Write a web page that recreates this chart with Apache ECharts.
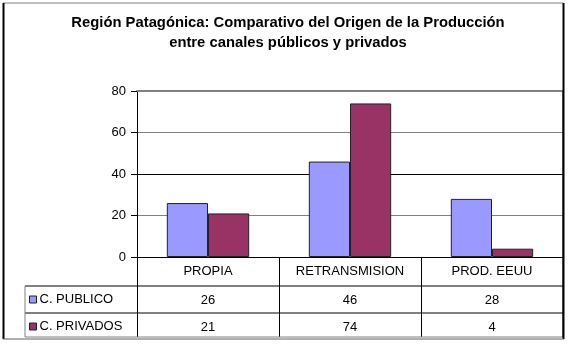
<!DOCTYPE html>
<html><head><meta charset="utf-8">
<script src="https://cdn.jsdelivr.net/npm/echarts@6/dist/echarts.min.js"></script>
<style>html,body{margin:0;padding:0;background:#fff}#c{width:568px;height:344px}</style>
</head><body><div id="c"></div>
<script>
const titleLines = ['Región Patagónica: Comparativo del Origen de la Producción', 'entre canales públicos y privados'];
const categories = ['PROPIA', 'RETRANSMISION', 'PROD. EEUU'];
const seriesNames = ['C. PUBLICO', 'C. PRIVADOS'];
const publico = [26, 46, 28];
const privados = [21, 74, 4];
const yMin = 0, yMax = 80, yInterval = 20;
const colors = ['#9999FF', '#993366'];

const FONT = "'Liberation Sans', Arial, sans-serif";
const W = 568, H = 344;
const gLeft = 137, gRight = 563, gTop = 91, gBottom = 257;
const rowH = [29, 27, 24];   // header row, row 1, row 2
const tableLeft = 25;
const y1 = gBottom + rowH[0], y2 = y1 + rowH[1], y3 = y2 + rowH[2];

const chart = echarts.init(document.getElementById('c'), null, {renderer: 'canvas'});
const black = '#000';
const line = (x1, ya, x2, yb, color, w) => ({type: 'line', shape: {x1: x1, y1: ya, x2: x2, y2: yb}, style: {stroke: color, lineWidth: w}, z: 100, silent: true});

const valueRows = [publico, privados];
const tableAxes = valueRows.map((vals, i) => ({
  type: 'category', data: categories, position: 'bottom', gridIndex: 0,
  offset: (i === 0 ? y1 : y2) - gBottom,
  axisLine: {show: false}, axisTick: {show: false}, splitLine: {show: false},
  axisLabel: {margin: 8, fontSize: 13, fontFamily: FONT, color: black,
    formatter: (v) => String(vals[categories.indexOf(v)])}
}));

chart.setOption({
  animation: false,
  backgroundColor: '#fff',
  title: {
    text: titleLines.join('\n'), left: 283, top: 8, textAlign: 'center',
    textStyle: {fontSize: 14.8, fontWeight: 'bold', fontFamily: FONT, color: black, lineHeight: 20}
  },
  legend: {
    data: seriesNames, orient: 'vertical', left: tableLeft + 4, top: y1 + 7,
    itemWidth: 7, itemHeight: 7, itemGap: 14, icon: 'rect', padding: 0,
    textStyle: {fontSize: 13, fontFamily: FONT, color: black, padding: [0, 0, 0, -2]},
    itemStyle: {borderColor: '#222', borderWidth: 1}
  },
  grid: {left: gLeft, right: W - gRight, top: gTop, bottom: H - gBottom, containLabel: false},
  xAxis: [
    {
      type: 'category', data: categories, position: 'bottom',
      axisLine: {show: true, lineStyle: {color: black, width: 1}},
      axisTick: {show: true, length: y3 - gBottom, alignWithLabel: false, lineStyle: {color: black}},
      axisLabel: {margin: 8, fontSize: 13, fontFamily: FONT, color: black},
      splitLine: {show: false}
    },
    tableAxes[0], tableAxes[1],
    {
      type: 'category', data: categories, position: 'top',
      axisLine: {show: true, lineStyle: {color: '#808080', width: 2}},
      axisTick: {show: false}, axisLabel: {show: false}, splitLine: {show: false}
    }
  ],
  yAxis: {
    type: 'value', min: yMin, max: yMax, interval: yInterval,
    axisLine: {show: true, lineStyle: {color: black}},
    axisTick: {show: true, length: 6, lineStyle: {color: black}},
    axisLabel: {margin: 11, fontSize: 13, fontFamily: FONT, color: black},
    splitLine: {show: true, lineStyle: {color: ['#808080', '#808080', '#000', '#808080', '#808080'], width: 1}}
  },
  series: [
    {name: seriesNames[0], type: 'bar', data: publico, barGap: '0%', barCategoryGap: '42%',
     itemStyle: {color: colors[0], borderColor: '#222', borderWidth: 1}},
    {name: seriesNames[1], type: 'bar', data: privados, barGap: '0%', barCategoryGap: '42%',
     itemStyle: {color: colors[1], borderColor: '#222', borderWidth: 1}}
  ],
  graphic: [
    line(tableLeft, y1, gRight, y1, black, 1),
    line(tableLeft, y2, gRight, y2, black, 1),
    line(tableLeft, y3, gRight, y3, '#808080', 1),
    line(tableLeft, y1, tableLeft, y3, '#808080', 1),
    line(gRight, gTop, gRight, y3, black, 1),
    line(3, 3, 563, 3, '#808080', 1),
    line(3.5, 3, 3.5, 339, black, 2),
    line(563.5, 3, 563.5, 339, black, 2),
    line(3, 339, 564, 339, '#606060', 1)
  ]
});
</script></body></html>
